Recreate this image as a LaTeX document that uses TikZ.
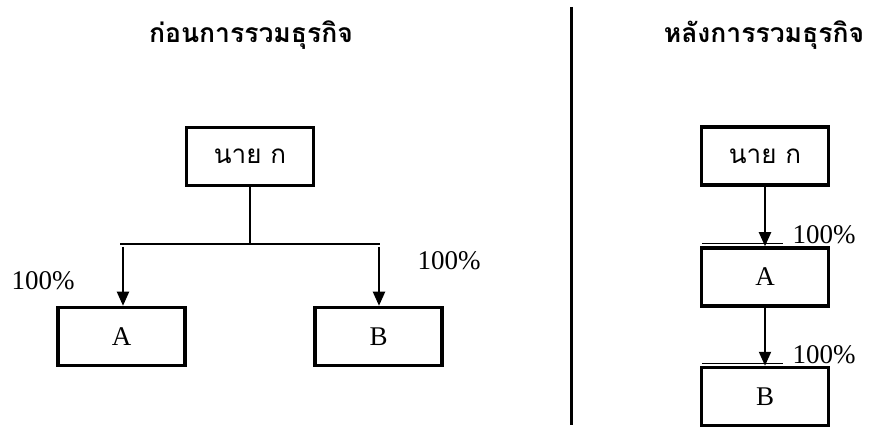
\documentclass[tikz,border=0pt]{standalone}
\usepackage{fontspec}
\setmainfont{Liberation Serif}
\newfontfamily\thaifont[Script=Thai]{Loma}
\usetikzlibrary{arrows.meta}
\begin{document}
\begin{tikzpicture}[x=1pt,y=-1pt,
  orgbox/.style={draw,line width=3.5pt,minimum width=127pt,minimum height=58pt,inner sep=0pt,font=\fontsize{27}{30}\selectfont},
  thaitext/.style={font=\thaifont\fontsize{26}{30}\selectfont},
  pct/.style={inner sep=2pt,font=\fontsize{27}{30}\selectfont},
  title/.style={font=\thaifont\bfseries\fontsize{26.5}{31}\selectfont},
  link/.style={line width=2pt},
  arr/.style={link,-{Triangle[width=12pt,length=14pt]}},
  edge/.style={line width=0.9pt}]
\useasboundingbox (0,0) rectangle (869,427);

% headings and divider
\node[title] (t1) at (251,35) {ก่อนการรวมธุรกิจ};
\node[title] (t2) at (764,35) {หลังการรวมธุรกิจ};
\coordinate (d1) at (571.5,7);
\coordinate (d2) at (571.5,425);
\draw[line width=3pt] (d1) -- (d2);

% before: one owner holding both companies
\node[orgbox,thaitext] (k1) at (250,156.5) {นาย ก};
\node[orgbox] (a1) at (121.5,336.5) {A};
\node[orgbox] (b1) at (378.5,336.5) {B};
\coordinate (hl) at (120,244);
\coordinate (hr) at (380,244);
\coordinate (la) at (123,247);
\coordinate (lb) at (379,247);
\draw[link] (k1.south) -- (k1.south |- hl);
\draw[link] (hl) -- (hr);
\draw[arr] (la) -- (la |- a1.north);
\draw[arr] (lb) -- (lb |- b1.north);
\node[pct] (p1) at (43,281) {100\%};
\node[pct] (p2) at (449,261) {100\%};

% after: owner holds A, A holds B
\node[orgbox,thaitext] (k2) at (765,156) {นาย ก};
\node[orgbox] (a2) at (765,277) {A};
\node[orgbox] (b2) at (765,396.5) {B};
\node[pct] (p3) at (824,235) {100\%};
\node[pct] (p4) at (824,355) {100\%};
\draw[edge] ([xshift=2pt,yshift=2.5pt]a2.north west) -- ([xshift=-7pt,yshift=2.5pt]a2.north west -| p3.west);
\draw[edge] ([xshift=2pt,yshift=2.5pt]b2.north west) -- ([xshift=-7pt,yshift=2.5pt]b2.north west -| p4.west);
\draw[arr] (k2.south) -- (a2.north);
\draw[arr] (a2.south) -- (b2.north);
\end{tikzpicture}
\end{document}
